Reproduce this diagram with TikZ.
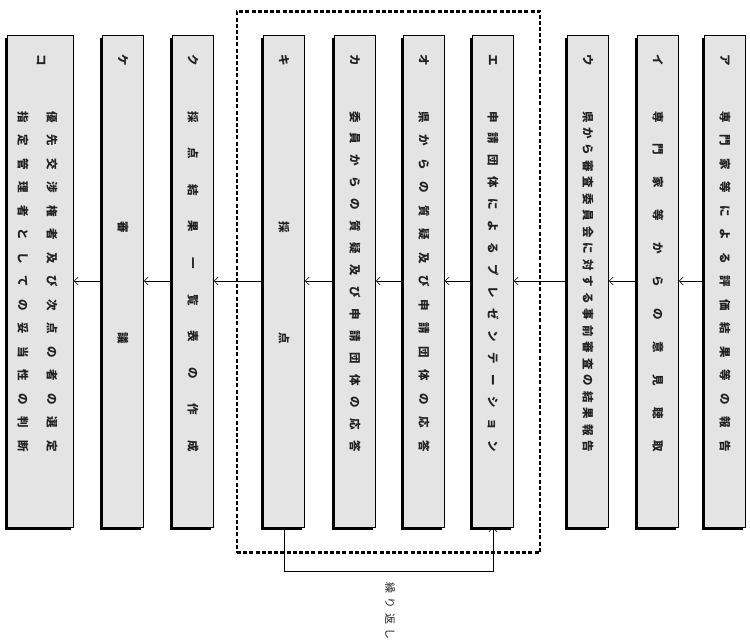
\documentclass[tikz,border=0pt]{standalone}
\usepackage{fontspec}
\setmainfont{Noto Sans CJK JP}
\usetikzlibrary{arrows.meta,shadows}
\definecolor{boxgray}{HTML}{E4E4E4}
\definecolor{inkgray}{HTML}{222222}
\def\sprEnd{}
\def\spr#1{\sprA#1\sprEnd}
\def\sprA#1#2\sprEnd{#1\ifx\relax#2\relax\else\hfill\sprA#2\sprEnd\fi}
\newcommand\spreadto[2]{\hbox to #1{\spr{#2}}}
\begin{document}
\begin{tikzpicture}[x=1pt,y=-1pt,
  box/.style={draw=black, line width=0.6pt, fill=boxgray, minimum width=41pt,
    minimum height=492pt, inner sep=0pt,
    drop shadow={shadow xshift=-3pt, shadow yshift=-3pt, opacity=1, fill=black}},
  lbl/.style={rotate=-90, font=\fontsize{11.5pt}{13pt}\selectfont\bfseries, text=inkgray, inner sep=0pt},
  txt/.style={rotate=-90, font=\fontsize{11.5pt}{13pt}\selectfont\bfseries, text=inkgray, inner sep=0pt},
  arr/.style={draw=black, line width=0.6pt, -{Straight Barb[length=4pt,width=8pt]}},
  grp/.style={draw=black, line width=2.2pt, dash pattern=on 4pt off 2.2pt,
    minimum width=303pt, minimum height=541pt, inner sep=0pt}]
\useasboundingbox (0,0) rectangle (750,642);

% boxes
\node[box] (a)  at (725,281) {};
\node[box] (i)  at (658,281) {};
\node[box] (u)  at (588,281) {};
\node[box] (e)  at (493,281) {};
\node[box] (o)  at (424,281) {};
\node[box] (ka) at (355,281) {};
\node[box] (ki) at (284,281) {};
\node[box] (ku) at (193,281) {};
\node[box] (ke) at (123,281) {};
\node[box, minimum width=66pt] (ko) at (40.5,281) {};

% labels
\node[lbl] (a-l)  at (725,60) {ア};
\node[lbl] (i-l)  at (658,60) {イ};
\node[lbl] (u-l)  at (588,60) {ウ};
\node[lbl] (e-l)  at (493,60) {エ};
\node[lbl] (o-l)  at (424,60) {オ};
\node[lbl] (ka-l) at (355,60) {カ};
\node[lbl] (ki-l) at (284,60) {キ};
\node[lbl] (ku-l) at (193,60) {ク};
\node[lbl] (ke-l) at (123,60) {ケ};
\node[lbl] (ko-l) at (41,60) {コ};

% texts
\node[txt] (a-t)  at (725,281.5) {\spreadto{341pt}{専門家等による評価結果等の報告}};
\node[txt] (i-t)  at (658,281.5) {\spreadto{341pt}{専門家等からの意見聴取}};
\node[txt] (u-t)  at (588,281.5) {\spreadto{341pt}{県から審査委員会に対する事前審査の結果報告}};
\node[txt] (e-t)  at (493,281.5) {\spreadto{341pt}{申請団体によるプレゼンテーション}};
\node[txt] (o-t)  at (424,281.5) {\spreadto{341pt}{県からの質疑及び申請団体の応答}};
\node[txt] (ka-t) at (355,281.5) {\spreadto{341pt}{委員からの質疑及び申請団体の応答}};
\node[txt] (ki-t) at (284,282.5) {\spreadto{122pt}{採点}};
\node[txt] (ku-t) at (193,281.5) {\spreadto{341pt}{採点結果一覧表の作成}};
\node[txt] (ke-t) at (123,282.5) {\spreadto{122pt}{審議}};
\node[txt] (ko-t1) at (52,281.5) {\spreadto{341pt}{優先交渉権者及び次点の者の選定}};
\node[txt] (ko-t2) at (23,281.5) {\spreadto{341pt}{指定管理者としての妥当性の判断}};

% arrows
\draw[arr] (a.west)  -- (i.east);
\draw[arr] (i.west)  -- (u.east);
\draw[arr] (u.west)  -- (e.east);
\draw[arr] (e.west)  -- (o.east);
\draw[arr] (o.west)  -- (ka.east);
\draw[arr] (ka.west) -- (ki.east);
\draw[arr] (ki.west) -- (ku.east);
\draw[arr] (ku.west) -- (ke.east);
\draw[arr] (ke.west) -- (ko.east);

% group
\node[grp] (g) at (388.5,282) {};

% loop
\coordinate (lp) at (388,571);
\draw[arr] (ki.south) -- (ki.south |- lp) -| (e.south);
\node[rotate=-90, font=\fontsize{11pt}{12pt}\selectfont, text=inkgray, inner sep=0pt] (rep) at (390,611) {\spreadto{58pt}{繰り返し}};
\end{tikzpicture}
\end{document}
